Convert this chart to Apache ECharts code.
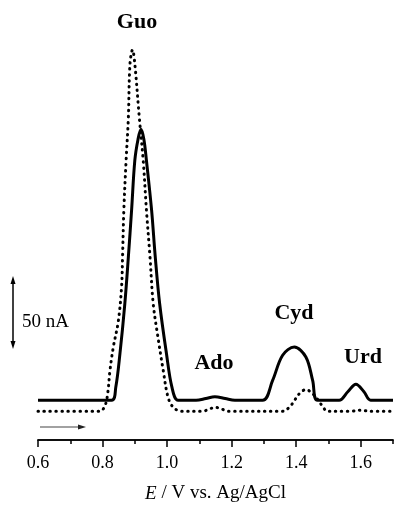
<!DOCTYPE html>
<html lang="en">
<head>
    <meta charset="UTF-8">
    <title>Voltammogram</title>
    <style>
        html, body { margin: 0; padding: 0; background: #fff; }
        #main { width: 394px; height: 508px; }
    </style>
</head>
<body>
    <div id="main"></div>
    <script src="https://cdn.jsdelivr.net/npm/echarts@6.0.0/dist/echarts.min.js"></script>
    <script>
        // potential (V) vs current (nA)
        const solidCurve = [
            [0.60, 0], [0.828, 0], [0.841, 9.2], [0.854, 33], [0.869, 68], [0.880, 101],
            [0.890, 134], [0.900, 169], [0.910, 184], [0.919, 191], [0.928, 184], [0.936, 169],
            [0.952, 134], [0.963, 102], [0.977, 68], [0.998, 33], [1.015, 9.2], [1.034, 0],
            [1.09, 0], [1.12, 1.2], [1.148, 2.5], [1.18, 1.2], [1.21, 0],
            [1.296, 0], [1.327, 14], [1.358, 31.7], [1.394, 37.5], [1.430, 30.5], [1.451, 14], [1.466, 0],
            [1.533, 0], [1.56, 6], [1.585, 11.3], [1.61, 6], [1.631, 0], [1.70, 0]
        ];
        const dottedCurve = [
            [0.60, -7.7], [0.792, -7.7], [0.808, -3.5], [0.816, 4.9], [0.823, 21], [0.833, 37],
            [0.849, 56], [0.859, 80], [0.862, 101], [0.866, 134], [0.873, 169], [0.880, 199],
            [0.885, 237], [0.893, 247], [0.900, 237], [0.914, 199], [0.926, 169], [0.936, 134],
            [0.947, 101], [0.957, 68], [0.972, 44], [0.988, 21],
            [1.003, 2.1], [1.019, -4.9], [1.044, -7.7],
            [1.11, -7.7], [1.135, -5.8], [1.15, -5], [1.165, -5.8], [1.19, -7.7],
            [1.358, -7.7], [1.384, -3.5], [1.410, 4.7], [1.430, 7.5], [1.456, 3.5], [1.481, -4], [1.497, -7.7],
            [1.57, -7.7], [1.60, -7], [1.63, -7.7], [1.70, -7.7]
        ];
        const peakNames = ['Guo', 'Ado', 'Cyd', 'Urd'];
        const peakLabelPos = [[137, 22], [214, 363], [294, 313], [363, 357]];
        const xMin = 0.6, xMax = 1.7;

        const serif = '"Liberation Serif", "DejaVu Serif", serif';
        const myChart = echarts.init(document.getElementById('main'));

        const axisBase = {
            type: 'value',
            min: xMin,
            max: xMax,
            position: 'bottom',
            offset: 0,
            splitLine: { show: false },
            axisLine: { onZero: false, lineStyle: { color: '#000', width: 1.5 } }
        };

        const option = {
            animation: false,
            grid: { left: 38, right: 1, top: 20, bottom: 68, outerBoundsMode: 'none', containLabel: false },
            xAxis: [
                Object.assign({}, axisBase, {
                    interval: 0.2,
                    axisTick: { length: 7, lineStyle: { color: '#000', width: 1.5 } },
                    axisLabel: {
                        margin: 14,
                        color: '#000',
                        fontFamily: serif,
                        fontSize: 18,
                        formatter: v => v.toFixed(1),
                        showMaxLabel: false
                    },
                    name: '{i|E} / V vs. Ag/AgCl',
                    nameLocation: 'middle',
                    nameGap: 44,
                    nameTextStyle: {
                        color: '#000',
                        fontFamily: serif,
                        fontSize: 19,
                        rich: { i: { fontStyle: 'italic', fontFamily: serif, fontSize: 19, color: '#000' } }
                    }
                }),
                Object.assign({}, axisBase, {
                    interval: 0.1,
                    axisTick: { length: 4, lineStyle: { color: '#000', width: 1.5 } },
                    axisLabel: { show: false }
                })
            ],
            yAxis: { type: 'value', min: -28, max: 268, show: false },
            series: [
                {
                    type: 'line',
                    data: dottedCurve,
                    showSymbol: false,
                    smooth: 0.35,
                    lineStyle: { color: '#000', width: 3, type: [0.5, 5.5], cap: 'round' }
                },
                {
                    type: 'line',
                    data: solidCurve,
                    showSymbol: false,
                    smooth: 0.35,
                    lineStyle: { color: '#000', width: 3 }
                }
            ],
            graphic: peakNames.map((n, i) => ({
                type: 'text',
                x: peakLabelPos[i][0],
                y: peakLabelPos[i][1],
                style: {
                    text: n,
                    font: 'bold 22px ' + serif,
                    fill: '#000',
                    align: 'center',
                    verticalAlign: 'middle'
                }
            })).concat([
                // scale bar 50 nA
                { type: 'line', shape: { x1: 13, y1: 280, x2: 13, y2: 345 }, style: { stroke: '#000', lineWidth: 1.5 } },
                { type: 'polygon', shape: { points: [[13, 276], [10.5, 284], [15.5, 284]] }, style: { fill: '#000' } },
                { type: 'polygon', shape: { points: [[13, 349], [10.5, 341], [15.5, 341]] }, style: { fill: '#000' } },
                {
                    type: 'text', x: 22, y: 322,
                    style: { text: '50 nA', font: '19px ' + serif, fill: '#000', verticalAlign: 'middle' }
                },
                // scan direction arrow
                { type: 'line', shape: { x1: 40, y1: 427, x2: 80, y2: 427 }, style: { stroke: '#444', lineWidth: 1.2 } },
                { type: 'polygon', shape: { points: [[86, 427], [78, 424.5], [78, 429.5]] }, style: { fill: '#222' } }
            ])
        };
        myChart.setOption(option);
    </script>
</body>
</html>
